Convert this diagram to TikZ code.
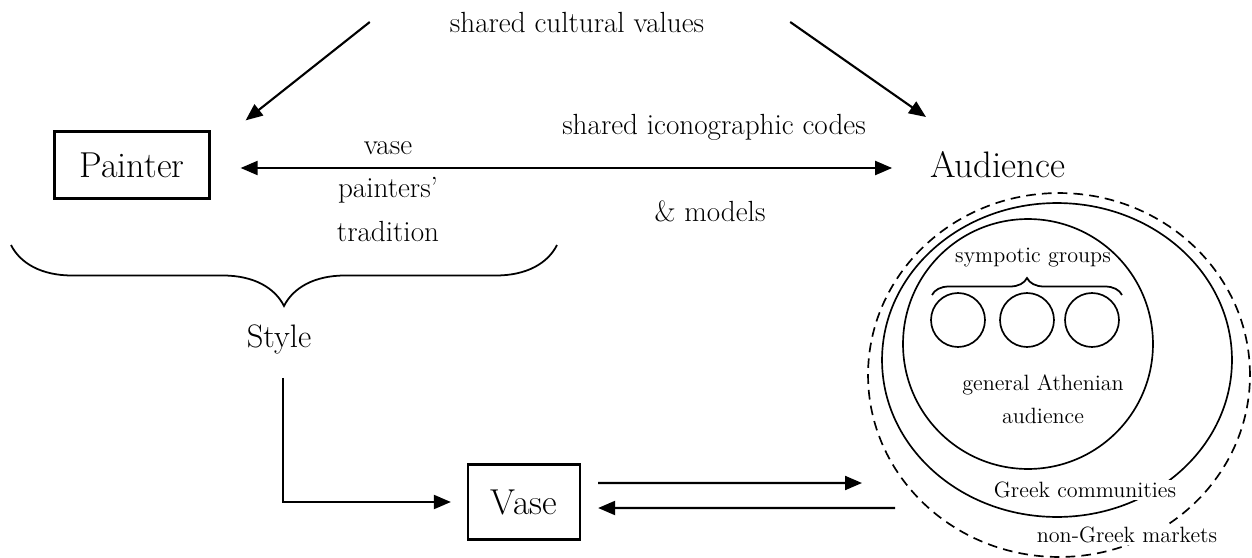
\documentclass[tikz,border=0pt]{standalone}
\usepackage{fontspec}
\usepackage{tikz}
\usetikzlibrary{arrows.meta,positioning,decorations.pathreplacing}

\begin{document}
\begin{tikzpicture}[x=0.02cm,y=-0.02cm,
  box/.style={draw,line width=1.3pt,font=\fontsize{20.5}{24}\selectfont},
  big/.style={font=\fontsize{18.5}{22}\selectfont},
  lbl/.style={font=\fontsize{16.6}{19}\selectfont,inner sep=1pt},
  sml/.style={font=\fontsize{12.6}{15}\selectfont,inner sep=1pt},
  arr/.style={-{Triangle[length=3.4mm,width=2.8mm]},line width=1.2pt},
  darr/.style={{Triangle[length=3.4mm,width=2.8mm]}-{Triangle[length=3.4mm,width=2.8mm]},line width=1.2pt},
  ring/.style={line width=0.95pt},
  curly/.style={decorate,line width=1pt}
]
\useasboundingbox (0,0) rectangle (1252,558);

% actors
\node[lbl] (values) at (577,22) {shared cultural values};
\node[box,minimum width=3.1cm,minimum height=1.34cm] (painter) at (132,165) {Painter};
\node[big,font=\fontsize{21}{24}\selectfont] (audience) at (998,165) {Audience};
\node[big] (style) at (279,339) {Style};
\node[box,minimum width=2.24cm,minimum height=1.5cm] (vase) at (524,502) {Vase};

% labels on the codes arrow
\node[lbl] (vaselbl) at (388,148) {vase};
\node[lbl] (painters) at (388,190) {painters'};
\node[lbl] (tradition) at (388,231) {tradition};
\node[lbl] (codes) at (714,127) {shared iconographic codes};
\node[lbl] (models) at (710,211) {\& models};

% audience rings
\draw[ring,dash pattern=on 5.5pt off 3.5pt] (1059,375) ellipse [x radius=3.82cm,y radius=3.64cm];
\draw[ring] (1057,360) ellipse [x radius=3.5cm,y radius=3.14cm];
\draw[ring] (1028,344) circle [radius=2.5cm];
\foreach \cx in {958,1027,1092}
  \draw[ring] (\cx,320) circle [radius=0.54cm];
\draw[curly,decoration={brace,amplitude=0.34cm}] (932,295) -- (1122,295);
\node[sml] (sympotic) at (1033,258) {sympotic groups};
\node[sml,align=center] (athens) at (1043,399) {general Athenian\\[4pt]audience};
\node[sml,fill=white] (greek) at (1085,490) {Greek communities};
\node[sml,fill=white] (markets) at (1127,535) {non-Greek markets};

% connectors
\coordinate (audTop) at (926,117);
\coordinate (audIn) at (862,483);
\coordinate (audOut) at (895,508);
\draw[arr] ([xshift=-1.56cm]values.west) -- ([shift={(0.7cm,0.2cm)}]painter.north east);
\draw[arr] ([xshift=1.68cm]values.east) -- (audTop);
\draw[darr] ([shift={(0.6cm,-0.06cm)}]painter.east) -- ([shift={(-0.64cm,-0.06cm)}]audience.west);
\draw[curly,decoration={brace,mirror,amplitude=1.22cm}] (11,245) -- (557,245);
\draw[arr] ([shift={(0.08cm,-0.36cm)}]style.south) |- ([xshift=-0.32cm]vase.west);
\draw[arr] ([shift={(0.34cm,0.38cm)}]vase.east) -- (audIn);
\draw[arr] (audOut) -- ([shift={(0.34cm,-0.12cm)}]vase.east);
\end{tikzpicture}
\end{document}
